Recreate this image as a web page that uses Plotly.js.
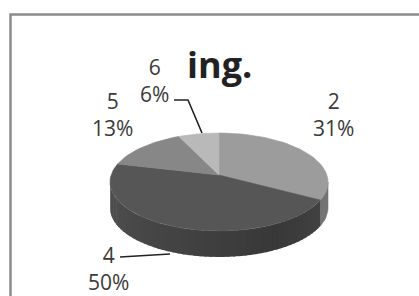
<!DOCTYPE html>
<html>
<head>
<meta charset="utf-8">
<script src="https://cdn.plot.ly/plotly-3.0.1.min.js"></script>
<style>html,body{margin:0;padding:0;background:#fff;}#chart{width:419px;height:296px;}</style>
</head>
<body>
<div id="chart"></div>
<script>
// ---- data ----
var labels = ['2', '4', '5', '6'];
var values = [31, 50, 13, 6];
var chartTitle = 'ing.';

// ---- styles ----
var topColors = ['#9c9c9c', '#565656', '#878787', '#b9b9b9'];
var sideColors = ['#737373', null, '#5e5e5e', '#808080'];
var labelPos = [[333, 114], [108, 268], [112.5, 114], [154, 80]];

// ---- geometry of the 3D pie (screen px; axes mapped 1:1 to pixels) ----
var cx = 219, cy = 182, rx = 109, ry = 49, depth = 26;
var ax = 219, ay = 175;

function pt(theta, dy) {
  var t = theta * Math.PI / 180;
  return [cx + rx * Math.sin(t), cy + (dy || 0) - ry * Math.cos(t)];
}
function arc(a, b, dy) {
  var pts = [], n = Math.max(2, Math.ceil(Math.abs(b - a) / 2));
  for (var i = 0; i <= n; i++) pts.push(pt(a + (b - a) * i / n, dy));
  return pts;
}
function sideShade(theta) {
  var v;
  if (theta >= 150) v = 0x38 + (theta - 150) / 120 * (0x50 - 0x38);
  else v = 0x38 + (150 - theta) / 60 * (0x48 - 0x38);
  v = Math.round(v);
  return 'rgb(' + v + ',' + v + ',' + v + ')';
}

var total = values.reduce(function (s, v) { return s + v; }, 0);
var traces = [];
var start = 0;
var slices = [];
values.forEach(function (v, i) {
  var a0 = start, a1 = start + v / total * 360;
  slices.push([a0, a1]);
  start = a1;
});

function poly(pts, color, lw) {
  var xs = pts.map(function (p) { return p[0]; });
  var ys = pts.map(function (p) { return p[1]; });
  xs.push(xs[0]); ys.push(ys[0]);
  traces.push({type: 'scatter', mode: 'lines', x: xs, y: ys, fill: 'toself',
    fillcolor: color, line: {color: color, width: lw}, hoverinfo: 'skip', showlegend: false});
}

// sides (front half: 90..270)
slices.forEach(function (s, i) {
  var a = Math.max(s[0], 90), b = Math.min(s[1], 270);
  if (b <= a) return;
  if (sideColors[i]) {
    poly(arc(a, b, 0).concat(arc(b, a, depth)), sideColors[i], 0.6);
  } else {
    var step = 3;
    for (var t = a; t < b; t += step) {
      var e = Math.min(b, t + step + 0.8);
      poly(arc(t, e, 0).concat(arc(e, t, depth)), sideShade((t + e) / 2), 0);
    }
  }
});

// top faces
slices.forEach(function (s, i) {
  poly([[ax, ay]].concat(arc(s[0], s[1], 0)), topColors[i], 0.6);
});

var annotations = labels.map(function (l, i) {
  var pct = Math.round(values[i] / total * 100) + '%';
  return {x: labelPos[i][0], y: labelPos[i][1], xref: 'x', yref: 'y',
    text: l + '<br>' + pct, showarrow: false, align: 'center',
    xanchor: 'center', yanchor: 'middle',
    font: {family: 'Open Sans', size: 21, color: '#3a3a3a'}};
});
annotations.push({x: 219, y: 64, xref: 'x', yref: 'y', text: '<b>' + chartTitle + '</b>',
  showarrow: false, xanchor: 'center', yanchor: 'middle',
  font: {family: 'Open Sans', size: 36, color: '#222'}});

var layout = {
  width: 419, height: 296,
  margin: {l: 0, r: 0, t: 0, b: 0},
  paper_bgcolor: '#fff', plot_bgcolor: '#fff',
  xaxis: {range: [0, 419], visible: false, fixedrange: true},
  yaxis: {range: [296, 0], visible: false, fixedrange: true},
  showlegend: false,
  annotations: annotations,
  shapes: [
    {type: 'rect', xref: 'x', yref: 'y', x0: 10.5, y0: 14.5, x1: 440, y1: 320,
      line: {color: '#8c8c8c', width: 2.5}},
    {type: 'path', xref: 'x', yref: 'y', path: 'M 174 100 L 188 100 L 202 133',
      line: {color: '#222', width: 1.6}},
    {type: 'path', xref: 'x', yref: 'y', path: 'M 120 257 L 170 254',
      line: {color: '#222', width: 1.6}}
  ]
};

Plotly.newPlot('chart', traces, layout, {staticPlot: true, displayModeBar: false});
</script>
</body>
</html>
